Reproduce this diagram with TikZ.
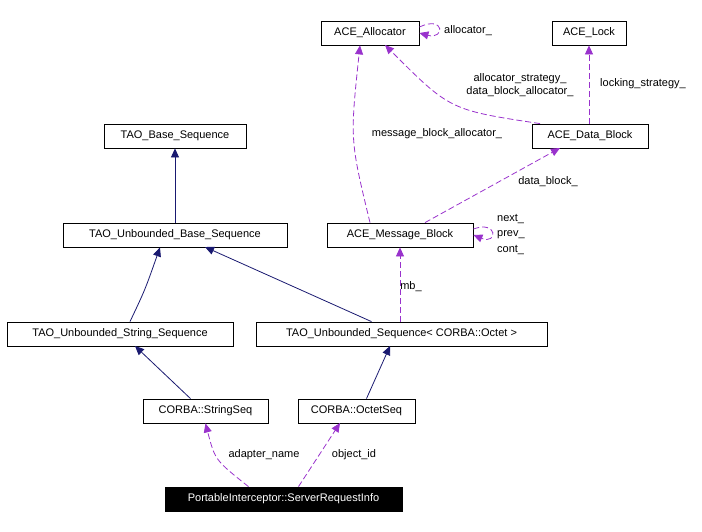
\documentclass[tikz,border=0pt]{standalone}
\usepackage{fontspec}
\setmainfont{Liberation Sans}
\usetikzlibrary{arrows.meta}
\definecolor{navy}{RGB}{25,25,112}
\definecolor{purp}{RGB}{153,50,204}
\begin{document}
\begin{tikzpicture}[x=1pt,y=-1pt,
  box/.style={draw=black,fill=white,inner sep=0pt,line width=0.8pt,minimum height=24pt,font=\fontsize{11}{13}\selectfont},
  inh/.style={draw=navy,line width=0.8pt,-{Triangle[length=9pt,width=8pt,fill=navy]}},
  use/.style={draw=purp,line width=0.8pt,dash pattern=on 6pt off 3pt,-{Triangle[length=9pt,width=8pt,fill=purp]}},
  lab/.style={font=\fontsize{11}{13}\selectfont,inner sep=1pt}]
\useasboundingbox (0,0) rectangle (702,531);
\node[box,minimum width=98pt] (alloc) at (370,33) {ACE\_Allocator};
\node[box,minimum width=74pt] (lock) at (589,33) {ACE\_Lock};
\node[box,minimum width=142pt] (tbs) at (175,136) {TAO\_Base\_Sequence};
\node[box,minimum width=116pt] (adb) at (590,136) {ACE\_Data\_Block};
\node[box,minimum width=224pt] (tubs) at (175,235) {TAO\_Unbounded\_Base\_Sequence};
\node[box,minimum width=146pt] (amb) at (400,235) {ACE\_Message\_Block};
\node[box,minimum width=226pt] (tuss) at (120,334) {TAO\_Unbounded\_String\_Sequence};
\node[box,minimum width=291pt] (tuso) at (401.5,334) {TAO\_Unbounded\_Sequence< CORBA::Octet >};
\node[box,minimum width=125pt] (ss) at (205.5,411) {CORBA::StringSeq};
\node[box,minimum width=117pt] (os) at (356.5,411) {CORBA::OctetSeq};
\node[box,minimum width=237pt,fill=black,text=white] (sri) at (283.5,499) {PortableInterceptor::ServerRequestInfo};

\draw[inh] (tubs) -- (tbs);
\draw[inh] (tuss.north) ++(10,0) coordinate (c1) .. controls (145,290) .. (tubs.south -| 160,0);
\draw[inh] (tuso.north) ++(-30,0) coordinate (c2) -- (205,247);
\draw[inh] (ss.north) ++(-15,0) coordinate (c3) -- (135,346);
\draw[inh] (os.north) ++(10,0) coordinate (c4) -- (390,346);

\draw[use] (sri.north) ++(-35,0) coordinate (d1) .. controls (215,460) .. (ss.south);
\node[lab] at (264,455) {adapter\_name};
\draw[use] (sri.north) ++(15,0) coordinate (d2) -- (340,423);
\node[lab] at (354,455) {object\_id};
\draw[use] (tuso.north -| amb.south) -- (amb.south);
\node[lab] at (411,287) {mb\_};
\draw[use] (amb.north) ++(-30,0) coordinate (d3) .. controls (350,140) .. (alloc.south -| 360,0);
\node[lab] at (437,134) {message\_block\_allocator\_};
\draw[use] (adb.north) ++(-50,0) coordinate (d4) .. controls (450,110) .. (385,45);
\node[lab,align=center] at (520,85) {allocator\_strategy\_\\data\_block\_allocator\_};
\draw[use] (adb.north -| lock.south) -- (lock.south);
\node[lab] at (643,84) {locking\_strategy\_};
\draw[use] (amb.north) ++(25,0) coordinate (d5) -- (560,148);
\node[lab] at (548,182) {data\_block\_};
\draw[use] (alloc.east) ++(0,-6) coordinate (e1) .. controls (445,15) and (445,40) .. (alloc.east);
\node[lab,anchor=west] at (443,31) {allocator\_};
\draw[use] (amb.east) ++(0,-6) coordinate (e2) .. controls (498,220) and (498,245) .. (amb.east);
\node[lab,anchor=west] at (496,219) {next\_};
\node[lab,anchor=west] at (496,235) {prev\_};
\node[lab,anchor=west] at (496,250) {cont\_};
\end{tikzpicture}
\end{document}
